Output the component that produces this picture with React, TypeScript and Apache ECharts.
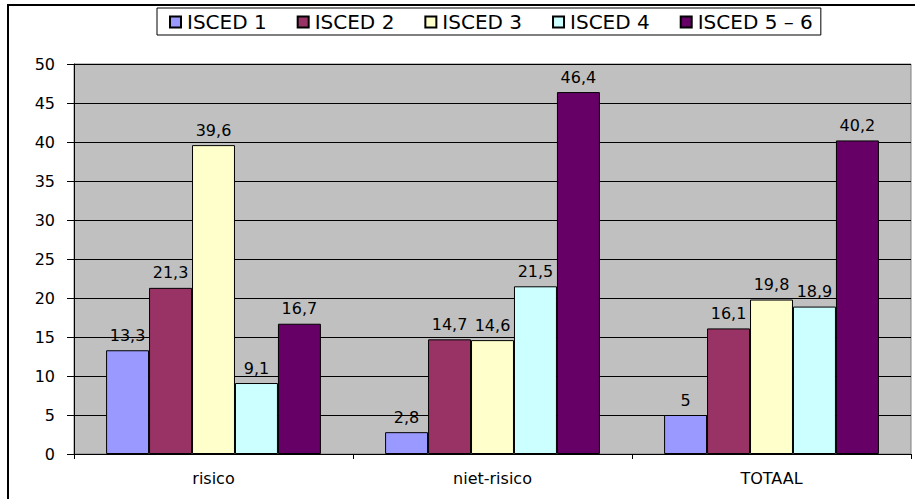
import React, { useEffect, useRef } from "react";
import * as echarts from "echarts";

const categories = ["risico", "niet-risico", "TOTAAL"];
const seriesNames = ["ISCED 1", "ISCED 2", "ISCED 3", "ISCED 4", "ISCED 5 – 6"];
const isced1 = [13.3, 2.8, 5];
const isced2 = [21.3, 14.7, 16.1];
const isced3 = [39.6, 14.6, 19.8];
const isced4 = [9.1, 21.5, 18.9];
const isced56 = [16.7, 46.4, 40.2];
const seriesValues = [isced1, isced2, isced3, isced4, isced56];
const colors = ["#9999FF", "#993366", "#FFFFCC", "#CCFFFF", "#660066"];

const FONT = "DejaVu Sans";

export default function App() {
  const ref = useRef<HTMLDivElement>(null);
  useEffect(() => {
    if (!ref.current) return;
    const chart = echarts.init(ref.current, null, { renderer: "svg" });
    chart.setOption({
      animation: false,
      backgroundColor: "#ffffff",
      textStyle: { fontFamily: FONT },
      graphic: [
        {
          type: "rect",
          shape: { x: 8, y: 5, width: 1000, height: 1000 },
          style: { fill: "none", stroke: "#000", lineWidth: 2 },
          z: 100,
        },
      ],
      legend: {
        left: 157,
        top: 8,
        padding: [4, 8, 3, 12],
        itemGap: 30,
        itemWidth: 11,
        itemHeight: 11,
        backgroundColor: "#ffffff",
        borderColor: "#000",
        borderWidth: 1,
        borderRadius: 0,
        textStyle: { fontFamily: FONT, fontSize: 20, color: "#000", padding: [0, 0, 0, 1] },
        data: seriesNames.map((n) => ({ name: n, icon: "rect" })),
      },
      grid: {
        left: 74,
        right: 4,
        top: 64,
        bottom: 45,
        show: true,
        backgroundColor: "#C0C0C0",
        borderColor: "#808080",
        borderWidth: 1,
      },
      xAxis: {
        type: "category",
        data: categories,
        axisLine: { lineStyle: { color: "#000", width: 1 } },
        axisTick: { show: true, length: 5, lineStyle: { color: "#000" } },
        axisLabel: { color: "#000", fontSize: 16, fontFamily: FONT, margin: 16 },
      },
      yAxis: {
        type: "value",
        min: 0,
        max: 50,
        interval: 5,
        axisLine: { show: true, lineStyle: { color: "#000", width: 1 } },
        axisTick: { show: true, length: 7, lineStyle: { color: "#000" } },
        axisLabel: { color: "#000", fontSize: 16, fontFamily: FONT, margin: 19 },
        splitLine: { show: true, lineStyle: { color: "#000", width: 1 } },
      },
      series: seriesNames.map((name, i) => ({
        name,
        type: "bar",
        data: seriesValues[i],
        barGap: "0%",
        barCategoryGap: "23%",
        itemStyle: { color: colors[i], borderColor: "#000", borderWidth: 1 },
        label: {
          show: true,
          position: "top",
          distance: 7,
          color: "#000",
          fontSize: 16,
          fontFamily: FONT,
          formatter: (p: any) => String(p.value).replace(".", ","),
        },
      })),
    });
    return () => chart.dispose();
  }, []);
  return (
    <div
      ref={ref}
      style={{ position: "absolute", left: 0, top: 0, width: 915, height: 499 }}
    />
  );
}
